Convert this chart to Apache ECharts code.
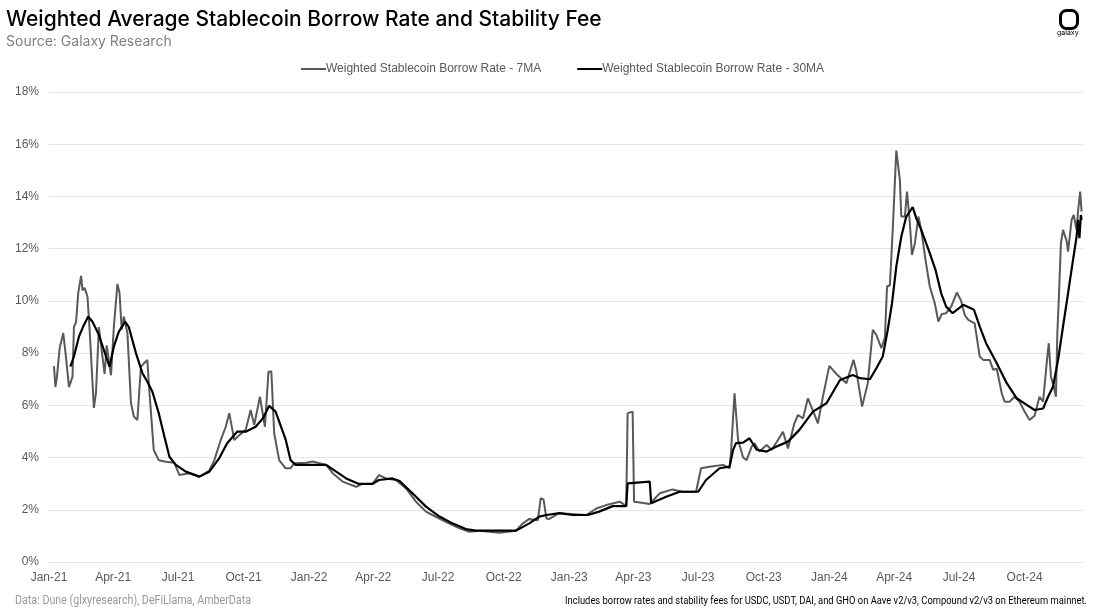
<!DOCTYPE html>
<html>
<head>
<meta charset="utf-8">
<script src="https://cdn.jsdelivr.net/npm/echarts@6/dist/echarts.min.js"></script>
<style>
  html, body { margin: 0; padding: 0; background: #fff; }
  #main { width: 1100px; height: 610px; }
</style>
</head>
<body>
<div id="main"></div>
<script>
  // x axis quarter labels
  var quarterStarts = ['2021-01-01', '2021-04-01', '2021-07-01', '2021-10-01', '2022-01-01', '2022-04-01', '2022-07-01', '2022-10-01',
    '2023-01-01', '2023-04-01', '2023-07-01', '2023-10-01', '2024-01-01', '2024-04-01', '2024-07-01', '2024-10-01'];
  var quarterLabels = ['Jan-21', 'Apr-21', 'Jul-21', 'Oct-21', 'Jan-22', 'Apr-22', 'Jul-22', 'Oct-22',
    'Jan-23', 'Apr-23', 'Jul-23', 'Oct-23', 'Jan-24', 'Apr-24', 'Jul-24', 'Oct-24'];

  // Weighted Stablecoin Borrow Rate - 7MA (%)
  var dates7 = ['2021-01-08', '2021-01-10', '2021-01-12', '2021-01-16', '2021-01-21', '2021-01-25', '2021-01-29', '2021-02-03', '2021-02-05', '2021-02-08',
    '2021-02-11', '2021-02-15', '2021-02-17', '2021-02-20', '2021-02-24', '2021-02-27', '2021-03-05', '2021-03-08', '2021-03-12', '2021-03-16',
    '2021-03-20', '2021-03-23', '2021-03-29', '2021-04-02', '2021-04-07', '2021-04-10', '2021-04-13', '2021-04-16', '2021-04-21', '2021-04-26',
    '2021-04-30', '2021-05-05', '2021-05-10', '2021-05-14', '2021-05-19', '2021-05-21', '2021-05-28', '2021-06-04', '2021-06-14', '2021-06-26',
    '2021-07-03', '2021-07-17', '2021-07-31', '2021-08-14', '2021-08-21', '2021-08-30', '2021-09-06', '2021-09-11', '2021-09-18', '2021-09-25',
    '2021-10-04', '2021-10-11', '2021-10-16', '2021-10-24', '2021-10-31', '2021-11-05', '2021-11-09', '2021-11-13', '2021-11-20', '2021-11-29',
    '2021-12-06', '2021-12-11', '2021-12-28', '2022-01-06', '2022-01-25', '2022-02-03', '2022-02-17', '2022-03-08', '2022-03-17', '2022-03-31',
    '2022-04-09', '2022-04-19', '2022-05-03', '2022-05-17', '2022-05-31', '2022-06-14', '2022-06-23', '2022-07-12', '2022-07-31', '2022-08-14',
    '2022-08-28', '2022-09-25', '2022-10-18', '2022-10-28', '2022-11-06', '2022-11-18', '2022-11-22', '2022-11-26', '2022-11-30', '2022-12-04',
    '2022-12-18', '2023-01-25', '2023-02-08', '2023-02-22', '2023-03-13', '2023-03-22', '2023-03-24', '2023-03-31', '2023-04-02', '2023-04-10',
    '2023-04-24', '2023-05-08', '2023-05-26', '2023-06-09', '2023-06-28', '2023-07-05', '2023-07-17', '2023-08-05', '2023-08-14', '2023-08-16',
    '2023-08-21', '2023-08-26', '2023-09-02', '2023-09-07', '2023-09-14', '2023-09-18', '2023-09-25', '2023-10-05', '2023-10-12', '2023-10-21',
    '2023-10-28', '2023-11-04', '2023-11-13', '2023-11-18', '2023-11-25', '2023-12-02', '2023-12-09', '2023-12-16', '2023-12-23', '2024-01-01',
    '2024-01-11', '2024-01-20', '2024-01-25', '2024-02-01', '2024-02-04', '2024-02-08', '2024-02-16', '2024-02-24', '2024-03-02', '2024-03-07',
    '2024-03-14', '2024-03-19', '2024-03-22', '2024-03-26', '2024-03-30', '2024-04-04', '2024-04-09', '2024-04-11', '2024-04-16', '2024-04-19',
    '2024-04-23', '2024-04-26', '2024-04-30', '2024-05-05', '2024-05-09', '2024-05-15', '2024-05-21', '2024-05-28', '2024-06-02', '2024-06-07',
    '2024-06-13', '2024-06-20', '2024-06-28', '2024-07-04', '2024-07-09', '2024-07-14', '2024-07-23', '2024-07-30', '2024-08-04', '2024-08-13',
    '2024-08-18', '2024-08-23', '2024-08-30', '2024-09-03', '2024-09-10', '2024-09-17', '2024-09-24', '2024-10-01', '2024-10-08', '2024-10-15',
    '2024-10-22', '2024-10-27', '2024-11-01', '2024-11-04', '2024-11-07', '2024-11-11', '2024-11-14', '2024-11-16', '2024-11-18', '2024-11-21',
    '2024-11-24', '2024-11-29', '2024-12-01', '2024-12-06', '2024-12-09', '2024-12-13', '2024-12-15', '2024-12-18', '2024-12-20'];
  var rate7 = [7.5, 6.7, 7.05, 8.2, 8.77, 7.8, 6.7, 7.1, 9.0, 9.2,
    10.3, 10.96, 10.4, 10.5, 10.16, 8.9, 5.9, 6.5, 9.0, 8.1,
    7.2, 8.3, 7.15, 9.0, 10.65, 10.3, 8.9, 9.4, 8.77, 6.1,
    5.57, 5.44, 7.48, 7.6, 7.74, 6.85, 4.29, 3.9, 3.84, 3.8,
    3.33, 3.4, 3.27, 3.5, 3.9, 4.67, 5.18, 5.7, 4.67, 4.86,
    5.06, 5.82, 5.25, 6.33, 5.18, 7.29, 7.3, 4.93, 3.9, 3.59,
    3.59, 3.78, 3.8, 3.85, 3.72, 3.4, 3.08, 2.88, 2.99, 2.99,
    3.33, 3.2, 3.14, 2.82, 2.31, 1.93, 1.8, 1.54, 1.29, 1.16,
    1.2, 1.12, 1.2, 1.48, 1.65, 1.6, 2.44, 2.4, 1.67, 1.65,
    1.87, 1.8, 2.05, 2.18, 2.31, 2.14, 5.7, 5.76, 2.31, 2.28,
    2.22, 2.63, 2.78, 2.69, 2.69, 3.59, 3.65, 3.72, 3.59, 4.2,
    6.46, 4.67, 4.0, 3.9, 4.42, 4.55, 4.23, 4.48, 4.3, 4.67,
    4.99, 4.35, 5.31, 5.63, 5.5, 6.27, 5.8, 5.31, 6.33, 7.51,
    7.2, 6.97, 6.85, 7.48, 7.74, 7.3, 5.95, 6.85, 8.89, 8.7,
    8.19, 8.6, 10.55, 10.6, 12.72, 15.76, 14.64, 13.23, 13.23, 14.19,
    12.98, 11.76, 12.2, 13.23, 12.72, 11.57, 10.55, 9.91, 9.21, 9.5,
    9.53, 9.78, 10.32, 10.0, 9.46, 9.27, 9.14, 7.87, 7.74, 7.74,
    7.36, 7.4, 6.46, 6.14, 6.14, 6.33, 6.14, 5.76, 5.44, 5.6,
    6.33, 6.14, 7.61, 8.38, 7.1, 6.72, 6.33, 8.76, 10.04, 12.21,
    12.72, 12.3, 11.89, 13.1, 13.29, 12.72, 13.42, 14.19, 13.42];

  // Weighted Stablecoin Borrow Rate - 30MA (%)
  var dates30 = ['2021-01-31', '2021-02-05', '2021-02-12', '2021-02-19', '2021-02-25', '2021-03-03', '2021-03-12', '2021-03-22', '2021-03-27', '2021-04-02',
    '2021-04-09', '2021-04-18', '2021-04-23', '2021-05-03', '2021-05-12', '2021-05-19', '2021-05-26', '2021-06-04', '2021-06-12', '2021-06-19',
    '2021-06-28', '2021-07-12', '2021-07-31', '2021-08-14', '2021-08-28', '2021-09-08', '2021-09-22', '2021-10-04', '2021-10-18', '2021-10-28',
    '2021-11-06', '2021-11-15', '2021-11-29', '2021-12-06', '2021-12-13', '2021-12-28', '2022-01-15', '2022-01-25', '2022-02-08', '2022-02-22',
    '2022-03-12', '2022-03-31', '2022-04-09', '2022-04-28', '2022-05-08', '2022-05-26', '2022-06-14', '2022-07-03', '2022-07-21', '2022-08-09',
    '2022-08-23', '2022-09-25', '2022-10-18', '2022-11-06', '2022-11-20', '2022-11-30', '2022-12-18', '2023-01-06', '2023-01-27', '2023-02-12',
    '2023-03-03', '2023-03-22', '2023-03-24', '2023-04-24', '2023-04-26', '2023-05-17', '2023-06-05', '2023-07-01', '2023-07-12', '2023-07-31',
    '2023-08-14', '2023-08-19', '2023-08-23', '2023-09-02', '2023-09-11', '2023-09-21', '2023-10-05', '2023-10-19', '2023-11-04', '2023-11-20',
    '2023-12-09', '2023-12-28', '2024-01-16', '2024-02-03', '2024-02-13', '2024-02-27', '2024-03-07', '2024-03-16', '2024-03-23', '2024-03-29',
    '2024-04-04', '2024-04-11', '2024-04-18', '2024-04-27', '2024-05-02', '2024-05-09', '2024-05-21', '2024-05-29', '2024-06-06', '2024-06-13',
    '2024-06-22', '2024-07-07', '2024-07-22', '2024-07-30', '2024-08-08', '2024-08-23', '2024-09-06', '2024-09-20', '2024-10-04', '2024-10-15',
    '2024-10-27', '2024-11-03', '2024-11-10', '2024-11-17', '2024-11-24', '2024-12-01', '2024-12-08', '2024-12-13', '2024-12-15', '2024-12-17',
    '2024-12-19', '2024-12-20'];
  var rate30 = [7.48, 7.87, 8.63, 9.08, 9.4, 9.2, 8.7, 7.87, 7.48, 8.25,
    8.82, 9.2, 9.0, 8.0, 7.24, 6.9, 6.53, 5.7, 4.8, 4.03,
    3.72, 3.46, 3.27, 3.46, 3.98, 4.55, 4.99, 4.99, 5.18, 5.5,
    5.98, 5.76, 4.7, 3.9, 3.72, 3.72, 3.72, 3.72, 3.46, 3.2,
    2.99, 2.99, 3.14, 3.2, 3.1, 2.63, 2.12, 1.74, 1.48, 1.26,
    1.2, 1.2, 1.2, 1.48, 1.74, 1.8, 1.87, 1.8, 1.8, 1.93,
    2.14, 2.14, 3.01, 3.08, 2.25, 2.5, 2.69, 2.69, 3.14, 3.59,
    3.65, 4.29, 4.55, 4.57, 4.74, 4.3, 4.23, 4.42, 4.61, 5.06,
    5.76, 6.08, 6.97, 7.16, 7.04, 7.0, 7.42, 7.87, 8.89, 9.91,
    11.31, 12.46, 13.23, 13.59, 13.17, 12.72, 11.83, 11.19, 10.29, 9.78,
    9.53, 9.85, 9.66, 9.02, 8.38, 7.61, 6.85, 6.27, 6.02, 5.82,
    5.88, 6.33, 6.72, 7.74, 9.02, 10.29, 11.57, 12.46, 13.1, 12.4,
    13.29, 13.1];

  function toTime(s) {
    var p = s.split('-');
    return Date.UTC(+p[0], +p[1] - 1, +p[2]);
  }

  var quarterTimes = quarterStarts.map(toTime);

  // footer notes are set in a narrow face; squeeze a regular face to the same width
  var noteLeft = 'Data: Dune (glxyresearch), DeFiLlama, AmberData';
  var noteRight = 'Includes borrow rates and stability fees for USDC, USDT, DAI, and GHO on Aave v2/v3, Compound v2/v3 on Ethereum mainnet.';
  var ctx = document.createElement('canvas').getContext('2d');
  ctx.font = '12px Roboto';
  var leftScale = 236 / ctx.measureText(noteLeft).width;
  ctx.font = '11px Roboto';
  var rightScale = 522 / ctx.measureText(noteRight).width;

  var myEchart = echarts.init(document.getElementById('main'));
  myEchart.setOption({
    animation: false,
    title: [
      {
        text: 'Weighted Average Stablecoin Borrow Rate and Stability Fee',
        left: 1,
        top: 4,
        textStyle: {
          fontFamily: 'Inter',
          fontSize: 21,
          fontWeight: 500,
          color: '#000'
        },
        subtext: 'Source: Galaxy Research',
        subtextStyle: {
          fontFamily: 'Inter',
          fontSize: 14,
          color: '#7f7f7f'
        },
        itemGap: 5
      }
    ],
    legend: {
      top: 58,
      left: 296,
      itemWidth: 25,
      itemHeight: 2,
      itemGap: 36,
      icon: 'rect',
      textStyle: {
        fontFamily: 'Liberation Sans',
        fontSize: 12,
        color: '#595959',
        padding: [0, 0, 0, -5]
      },
      data: ['Weighted Stablecoin Borrow Rate - 7MA', 'Weighted Stablecoin Borrow Rate - 30MA']
    },
    grid: {
      left: 49,
      right: 17,
      top: 92,
      bottom: 48
    },
    xAxis: {
      type: 'value',
      min: toTime('2021-01-01'),
      max: toTime('2024-12-22'),
      axisLine: { show: false },
      axisTick: { show: false },
      splitLine: { show: false },
      axisLabel: {
        customValues: quarterTimes,
        margin: 10,
        fontFamily: 'Liberation Sans',
        fontSize: 12,
        color: '#595959',
        formatter: function (val) {
          var i = quarterTimes.indexOf(val);
          return i >= 0 ? quarterLabels[i] : '';
        }
      }
    },
    yAxis: {
      type: 'value',
      min: 0,
      max: 18,
      interval: 2,
      axisLine: { show: false },
      axisTick: { show: false },
      axisLabel: {
        margin: 10,
        fontFamily: 'Liberation Sans',
        fontSize: 12,
        color: '#595959',
        formatter: '{value}%'
      },
      splitLine: {
        lineStyle: { color: '#e6e6e6', width: 1 }
      }
    },
    series: [
      {
        name: 'Weighted Stablecoin Borrow Rate - 7MA',
        type: 'line',
        showSymbol: false,
        symbol: 'none',
        color: '#595959',
        lineStyle: { color: '#595959', width: 2 },
        data: dates7.map(function (d, i) { return [toTime(d), rate7[i]]; }),
        z: 2
      },
      {
        name: 'Weighted Stablecoin Borrow Rate - 30MA',
        type: 'line',
        showSymbol: false,
        symbol: 'none',
        color: '#000000',
        lineStyle: { color: '#000000', width: 2.2 },
        data: dates30.map(function (d, i) { return [toTime(d), rate30[i]]; }),
        z: 3
      }
    ],
    graphic: [
      {
        type: 'rect',
        left: 1058,
        top: 8,
        shape: { width: 17, height: 18, r: 6 },
        style: { fill: 'none', stroke: '#000', lineWidth: 3 }
      },
      {
        type: 'text',
        left: 1057,
        top: 29,
        style: { text: 'galaxy', font: '7px Inter', fill: '#000' }
      },
      {
        type: 'text',
        x: 15,
        y: 595,
        scaleX: leftScale,
        style: {
          text: noteLeft,
          font: '12px Roboto',
          fill: '#999999'
        }
      },
      {
        type: 'text',
        x: 565,
        y: 596,
        scaleX: rightScale,
        style: {
          text: noteRight,
          font: '11px Roboto',
          fill: '#000'
        }
      }
    ]
  });
</script>
</body>
</html>
